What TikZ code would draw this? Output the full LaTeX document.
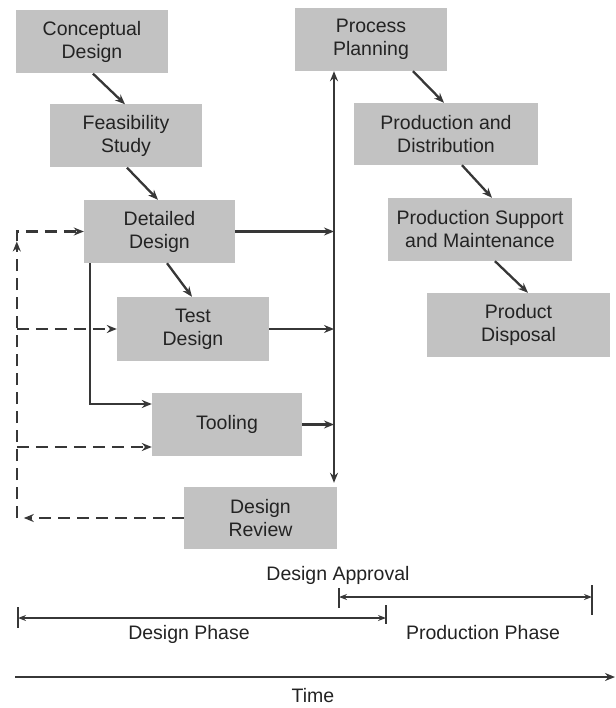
\documentclass[tikz,border=0pt]{standalone}
\usepackage{fontspec}
\setmainfont{Liberation Sans}
\usetikzlibrary{arrows.meta,calc}
\definecolor{boxgray}{RGB}{194,194,194}
\definecolor{ink}{RGB}{55,55,55}
\definecolor{txt}{RGB}{35,35,35}
\begin{document}
\begin{tikzpicture}[x=1pt,y=-1pt,
  box/.style={fill=boxgray, draw=none, minimum width=152pt, minimum height=63pt, align=center, text=txt, font=\fontsize{19.5}{23}\selectfont, inner sep=0pt},
  wbox/.style={box, minimum width=184pt},
  conn/.style={draw=ink, line width=2.3pt, -{Stealth[length=10pt,width=8pt]}},
  fb/.style={conn, dash pattern=on 12pt off 7pt},
  span/.style={draw=ink, line width=1.3pt, {Stealth[length=8pt,width=6pt]}-{Stealth[length=8pt,width=6pt]}},
  tick/.style={draw=ink, line width=1.3pt},
  lbl/.style={text=txt, font=\fontsize{19.5}{23}\selectfont, inner sep=0pt}
]
\useasboundingbox (0,0) rectangle (615,708);

% boxes
\node[box] (cd) at (92,42) {Conceptual\\Design};
\node[box] (fs) at (126,136) {Feasibility\\Study};
\node[box, minimum width=151pt] (dd) at (159.5,231.5) {Detailed\\Design};
\node[box, minimum height=64pt] (td) at (193,329) {Test\\Design};
\node[box, minimum width=150pt] (tl) at (227,424.5) {Tooling};
\node[box, minimum width=153pt, minimum height=62pt] (dr) at (260.5,518) {Design\\Review};
\node[box] (pp) at (371,39.5) {Process\\Planning};
\node[wbox, minimum height=62pt] (pd) at (446,134) {Production and\\Distribution};
\node[wbox] (ps) at (480,229.5) {Production Support\\and Maintenance};
\node[wbox, minimum width=183pt, minimum height=64pt] (px) at (518.5,325) {Product\\Disposal};

% diagonal flow arrows
\draw[conn] ([xshift=1pt]cd.south) -- ([xshift=-1pt]fs.north);
\draw[conn] ([xshift=1pt]fs.south) -- ([xshift=-1.5pt]dd.north);
\draw[conn] ([xshift=7.5pt]dd.south) -- ([xshift=-1pt]td.north);
\draw[conn] ([xshift=42pt]pp.south) -- ([xshift=-2pt]pd.north);
\draw[conn] ([xshift=16pt]pd.south) -- ([xshift=12pt]ps.north);
\draw[conn] ([xshift=15pt]ps.south) -- ([xshift=9.5pt]px.north);

% vertical bus to process planning / design review
\coordinate (bt) at ([xshift=-37pt]pp.south);
\coordinate (bb) at ([xshift=73.5pt,yshift=4pt]dr.north);
\draw[conn, {Stealth[length=10pt,width=8pt]}-{Stealth[length=10pt,width=8pt]}] (bt) -- (bb);
\draw[conn] (dd.east) -- (dd.east -| bt);
\draw[conn] (td.east) -- (td.east -| bt);
\draw[conn] (tl.east) -- (tl.east -| bt);

% detailed design to tooling
\draw[conn] ([xshift=6pt]dd.south west) |- ([yshift=20.5pt]tl.west);

% feedback (dashed)
\coordinate (fc) at ([xshift=-167pt]dr.west);
\coordinate (fk) at (fc |- dd.west);
\draw[fb] (dr.west) -- ([xshift=7pt]fc);
\draw[fb] (fc) -- ([yshift=-10pt]fk);
\draw[fb] ([yshift=-10pt]fk) -- (fk) -- (dd.west);
\draw[fb] (fc |- td.west) -- (td.west);
\coordinate (tlw) at ([yshift=-22.5pt]tl.west);
\draw[fb] (fc |- tlw) -- (tlw);

% timeline
\node[lbl] (da) at (338,575) {Design Approval};
\coordinate (pa) at (339,597);
\coordinate (pb) at (592,597);
\draw[tick] (pa) +(0,-9) -- +(0,11);
\draw[tick] (pb) +(0,-12) -- +(0,18);
\draw[span] (pa) -- (pb);

\coordinate (ea) at (18,618);
\coordinate (eb) at (386,618);
\draw[tick] (ea) +(0,-11) -- +(0,10);
\draw[tick] (eb) +(0,-13) -- +(0,6);
\draw[span] (ea) -- (eb);

\node[lbl] (dph) at (189,634) {Design Phase};
\node[lbl] (pph) at (483,633) {Production Phase};

\coordinate (t0) at (15,677);
\coordinate (t1) at (615,677);
\draw[conn] (t0) -- (t1);
\node[lbl] (time) at (313,696) {Time};
\end{tikzpicture}
\end{document}
